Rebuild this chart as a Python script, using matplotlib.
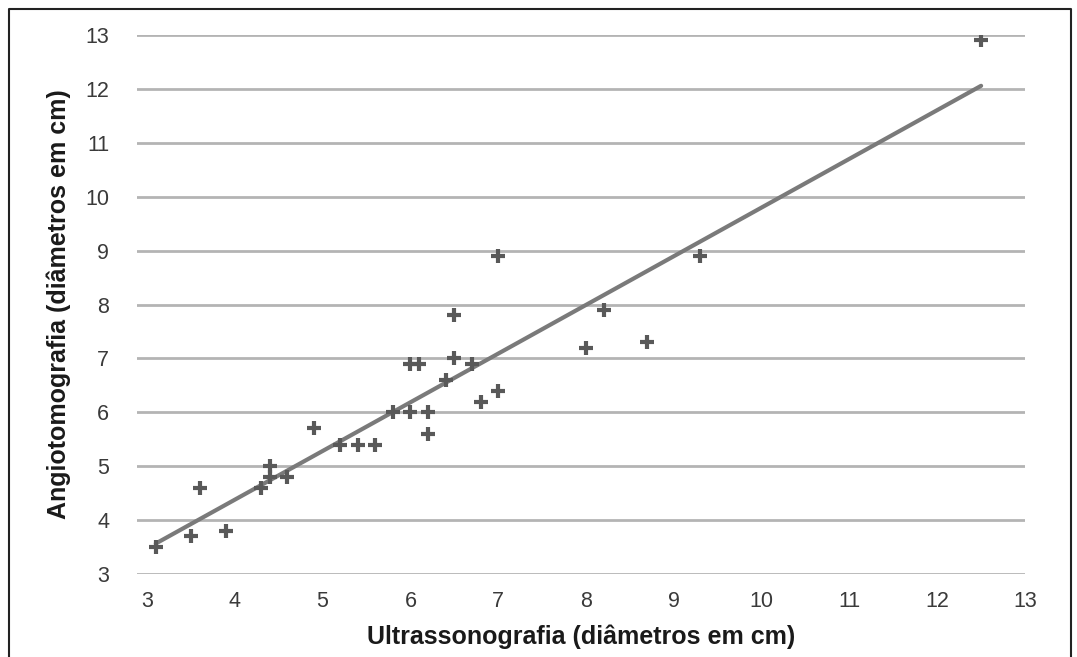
import numpy as np
import matplotlib.pyplot as plt
from matplotlib.lines import Line2D

plt.rcParams['font.family'] = ['Liberation Sans', 'DejaVu Sans']

# ultrassonografia (x) vs angiotomografia (y), diameters in cm
us = [3.1, 3.5, 3.6, 3.9, 4.3, 4.4, 4.4, 4.6, 4.9, 5.2, 5.4, 5.6, 5.8, 6.0,
      6.2, 6.2, 6.0, 6.1, 6.4, 6.5, 6.5, 6.7, 6.8, 7.0, 7.0, 8.0, 8.2, 8.7,
      9.3, 12.5]
angio = [3.5, 3.7, 4.6, 3.8, 4.6, 5.0, 4.8, 4.8, 5.7, 5.4, 5.4, 5.4, 6.0, 6.0,
         6.0, 5.6, 6.9, 6.9, 6.6, 7.0, 7.8, 6.9, 6.2, 6.4, 8.9, 7.2, 7.9, 7.3,
         8.9, 12.9]
ticks = list(range(3, 14))

fig = plt.figure(figsize=(10.77, 6.57), dpi=100)
ax = fig.add_axes([137 / 1077, 0.1263, 888 / 1077, 0.8204])

for t in ticks:
    ax.axhline(t, color='#b4b4b4', lw=2, zorder=1)

# linear trend line
slope, icpt = np.polyfit(us, angio, 1)
xs = np.array([min(us), max(us)])
ax.plot(xs, slope * xs + icpt, color='#7a7a7a', lw=3, zorder=2,
        solid_capstyle='round')

ax.plot(us, angio, linestyle='none', marker='+', markersize=10,
        markeredgewidth=3.0, color='#595959', zorder=3)

ax.set_xlim(3 - 10 / 87.8, 13.0)
ax.set_ylim(3, 13)
ax.set_xticks(ticks)
ax.set_yticks(ticks)
for s in ax.spines.values():
    s.set_visible(False)
ax.tick_params(length=0, labelsize=15.5, labelcolor='#3a3a3a')
ax.tick_params(axis='y', pad=20)
ax.tick_params(axis='x', pad=12)

ax.set_xlabel('Ultrassonografia (diâmetros em cm)', fontsize=18,
              fontweight='bold', color='#1a1a1a', labelpad=9)
ax.set_ylabel('Angiotomografia (diâmetros em cm)', fontsize=18,
              fontweight='bold', color='#1a1a1a', labelpad=10)

# outer frame (open at the bottom)
W, H = 1077, 657
fx = [9 / W, 9 / W, 1071 / W, 1071 / W]
fy = [0, 1 - 9 / H, 1 - 9 / H, 0]
fig.add_artist(Line2D(fx, fy, color='#222222', lw=1.5,
                      transform=fig.transFigure))

fig.savefig('out.png', dpi=100)
